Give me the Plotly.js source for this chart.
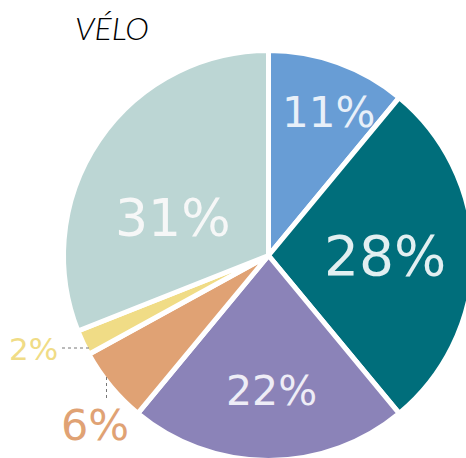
<!DOCTYPE html>
<html>
<head>
<meta charset="utf-8">
<script src="https://cdn.plot.ly/plotly-3.0.1.min.js"></script>
<style>
html,body{margin:0;padding:0;overflow:hidden;background:#fff;width:466px;height:458px;}
#chart{width:480px;height:470px;}
</style>
</head>
<body>
<div id="chart"></div>
<script>
// Data
const labels = ["A", "B", "C", "D", "E", "F"];
const values = [11, 28, 22, 6, 2, 31];
const sliceText = ["11%", "28%", "22%", "6%", "2%", "31%"];
const colors = ["#689dd5", "#006e7b", "#8b83b8", "#e0a274", "#f0dc86", "#bcd6d4"];
const textColors = ["#e8f0f9", "#e2eff1", "#eeedf6", "#e0a274", "#f0dc86", "#f6f7f7"];
const textSizes = [42, 55, 41, 43, 31, 52];
// label centres in pixels (layout positions, not data)
const labelX = [328, 385, 271, 95, 33, 173];
const labelY = [113, 256, 391, 425, 349, 218];

const W = 480, H = 470;
const px = x => x / W;
const py = y => 1 - y / H;

const trace = {
  type: "pie",
  labels: labels,
  values: values,
  text: sliceText,
  textinfo: "none",
  sort: false,
  direction: "clockwise",
  rotation: 0,
  marker: {colors: colors, line: {color: "#ffffff", width: 5}},
  hoverinfo: "none",
  showlegend: false,
  domain: {x: [px(63.5), px(473.5)], y: [py(460.5), py(50.5)]}
};

const annotations = sliceText.map((t, i) => ({
  text: t, xref: "paper", yref: "paper", x: px(labelX[i]), y: py(labelY[i]),
  xanchor: "center", yanchor: "middle", showarrow: false,
  font: {family: "DejaVu Sans", size: textSizes[i], color: textColors[i]}
}));

const layout = {
  width: W, height: H,
  margin: {l: 0, r: 0, t: 0, b: 0},
  paper_bgcolor: "#ffffff",
  showlegend: false,
  title: {
    text: "<i>VÉLO</i>",
    font: {family: "Lato", size: 32, color: "#000000", weight: 300},
    x: px(75), xanchor: "left", xref: "paper",
    y: py(29), yanchor: "middle", yref: "container"
  },
  annotations: annotations,
  shapes: [
    {type: "line", xref: "paper", yref: "paper", x0: px(62), x1: px(90), y0: py(348), y1: py(348),
     line: {color: "#777777", width: 1, dash: "dot"}},
    {type: "line", xref: "paper", yref: "paper", x0: px(106.5), x1: px(106.5), y0: py(377), y1: py(401),
     line: {color: "#777777", width: 1, dash: "dot"}}
  ]
};

Plotly.newPlot("chart", [trace], layout, {displayModeBar: false, staticPlot: true});
</script>
</body>
</html>
